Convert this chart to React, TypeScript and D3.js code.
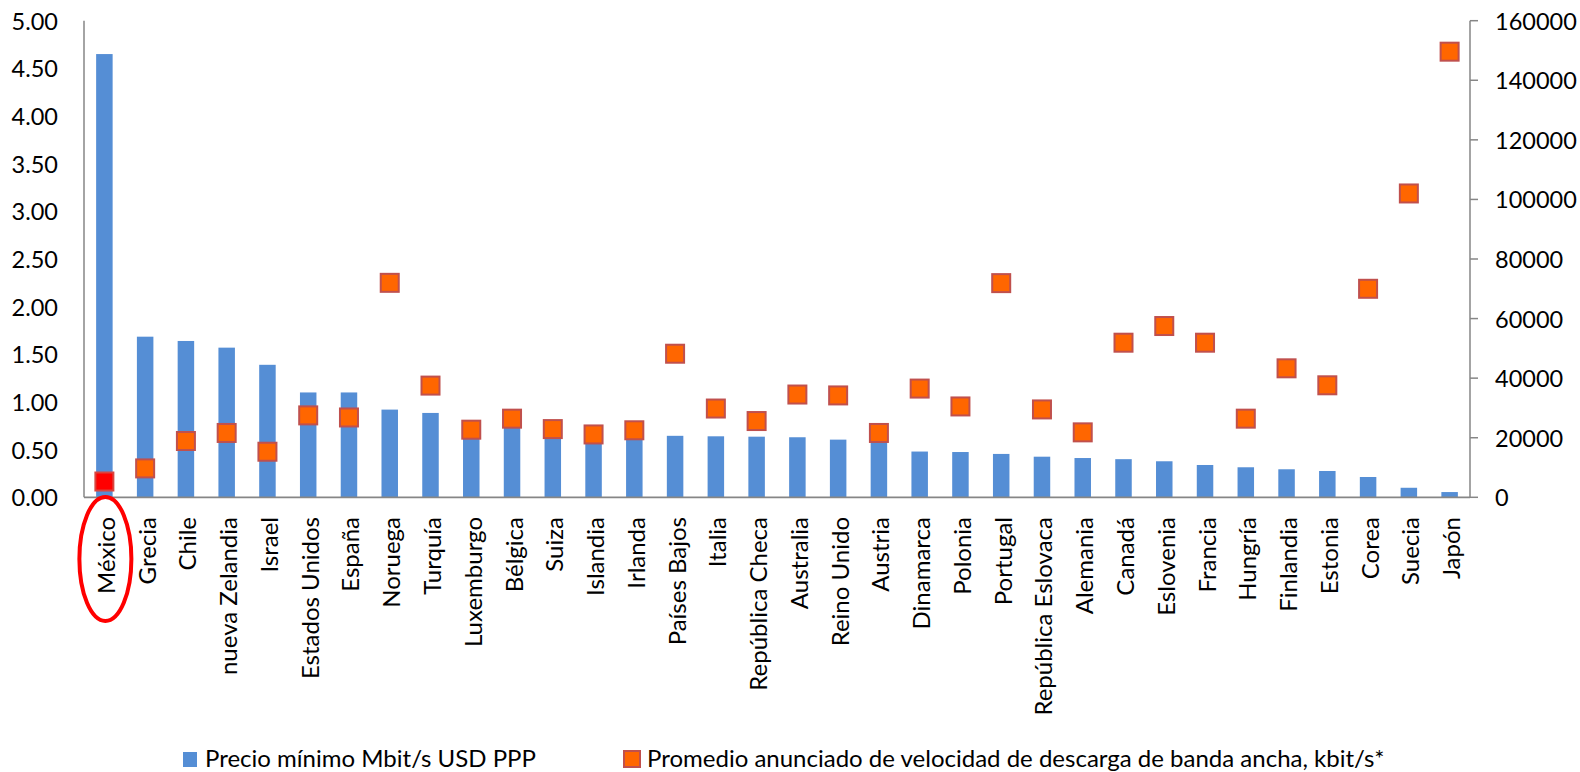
import React from "react";
import * as d3 from "d3";

const categories = [
  "México", "Grecia", "Chile", "nueva Zelandia", "Israel", "Estados Unidos", "España",
  "Noruega", "Turquía", "Luxemburgo", "Bélgica", "Suiza", "Islandia", "Irlanda",
  "Países Bajos", "Italia", "República Checa", "Australia", "Reino Unido", "Austria",
  "Dinamarca", "Polonia", "Portugal", "República Eslovaca", "Alemania", "Canadá",
  "Eslovenia", "Francia", "Hungría", "Finlandia", "Estonia", "Corea", "Suecia", "Japón",
];

const priceValues = [
  4.65, 1.685, 1.64, 1.57, 1.39, 1.1, 1.1,
  0.92, 0.885, 0.8, 0.78, 0.75, 0.71, 0.68,
  0.645, 0.64, 0.636, 0.63, 0.605, 0.59,
  0.48, 0.475, 0.455, 0.426, 0.412, 0.4,
  0.378, 0.339, 0.315, 0.294, 0.276, 0.213, 0.1, 0.055,
];

const speedValues = [
  5300, 9700, 18900, 21600, 15300, 27500, 26800,
  72000, 37500, 22700, 26400, 22900, 21100, 22500,
  48200, 29800, 25600, 34500, 34200, 21600,
  36500, 30500, 71900, 29500, 21800, 51900,
  57500, 51900, 26400, 43300, 37600, 70000, 102000, 149600,
];

const leftTicks = [0, 0.5, 1, 1.5, 2, 2.5, 3, 3.5, 4, 4.5, 5];
const rightTicks = [0, 20000, 40000, 60000, 80000, 100000, 120000, 140000, 160000];

const legendLabels = [
  "Precio mínimo Mbit/s USD PPP",
  "Promedio anunciado de velocidad de descarga de banda ancha, kbit/s*",
];

const FONT = "Lato, 'Open Sans', sans-serif";

export default function App() {
  const W = 1580;
  const H = 772;
  const left = 84;
  const right = 1470;
  const top = 20.7;
  const bottom = 497.3;

  const x = d3.scaleBand<string>().domain(categories).range([left, right]).paddingInner(0).paddingOuter(0);
  const yL = d3.scaleLinear().domain([0, 5]).range([bottom, top]);
  const yR = d3.scaleLinear().domain([0, 160000]).range([bottom, top]);
  const barW = 16.5;
  const mk = 18;

  const cx = (c: string) => (x(c) as number) + x.bandwidth() / 2;

  return (
    <svg
      width={W}
      height={H}
      style={{ position: "absolute", left: 0, top: 0, background: "#fff" }}
      fontFamily={FONT}
    >
      {/* bars */}
      {categories.map((c, i) => (
        <rect
          key={"b" + c}
          x={cx(c) - barW / 2}
          y={yL(priceValues[i])}
          width={barW}
          height={bottom - yL(priceValues[i])}
          fill="#558ED5"
        />
      ))}

      {/* axes */}
      <line x1={left} x2={left} y1={top} y2={bottom} stroke="#868686" strokeWidth={1.5} />
      <line x1={right} x2={right} y1={top} y2={bottom} stroke="#868686" strokeWidth={1.5} />
      <line x1={left} x2={right} y1={bottom} y2={bottom} stroke="#868686" strokeWidth={1.8} />

      {leftTicks.map((t) => (
        <text
          key={"l" + t}
          x={58}
          y={yL(t)}
          textAnchor="end"
          dominantBaseline="central"
          fontSize={23.5}
          fill="#000"
        >
          {d3.format(".2f")(t)}
        </text>
      ))}

      {rightTicks.map((t) => (
        <g key={"r" + t}>
          <line x1={right} x2={right + 8} y1={yR(t)} y2={yR(t)} stroke="#868686" strokeWidth={1.5} />
          <text x={1495} y={yR(t)} dominantBaseline="central" fontSize={23.5} fill="#000">
            {t}
          </text>
        </g>
      ))}

      {/* markers */}
      {categories.map((c, i) => (
        <rect
          key={"m" + c}
          x={cx(c) - mk / 2}
          y={yR(speedValues[i]) - mk / 2}
          width={mk}
          height={mk}
          fill={i === 0 ? "#FF0000" : "#FF6600"}
          stroke={i === 0 ? "#D9453F" : "#C0504D"}
          strokeWidth={2}
        />
      ))}

      {/* category labels */}
      {categories.map((c) => (
        <text
          key={"c" + c}
          transform={`translate(${cx(c) + 1},${517}) rotate(-90)`}
          textAnchor="end"
          dominantBaseline="central"
          fontSize={24}
          fill="#000"
        >
          {c}
        </text>
      ))}

      {/* highlight ellipse */}
      <ellipse
        cx={cx(categories[0]) + 1}
        cy={559}
        rx={26}
        ry={62}
        fill="none"
        stroke="#FF0000"
        strokeWidth={4}
      />

      {/* legend */}
      <rect x={183} y={752} width={14} height={15} fill="#558ED5" />
      <text x={205} y={767} fontSize={24} fill="#000">
        {legendLabels[0]}
      </text>
      <rect x={624} y={751} width={16} height={16} fill="#FF6600" stroke="#C0504D" strokeWidth={2} />
      <text x={647} y={767} fontSize={24} fill="#000">
        {legendLabels[1]}
      </text>
    </svg>
  );
}
